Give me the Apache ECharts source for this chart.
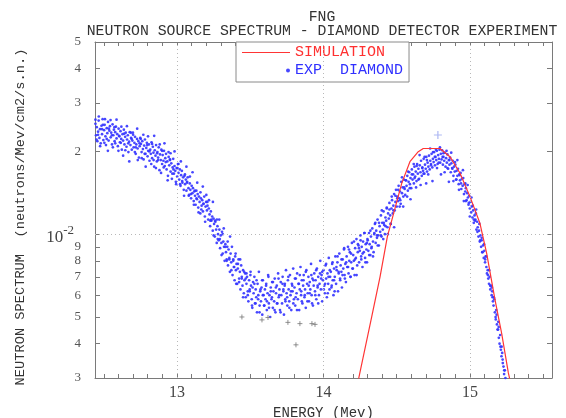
<!DOCTYPE html>
<html>
<head>
<meta charset="utf-8">
<script src="https://cdn.jsdelivr.net/npm/echarts@6/dist/echarts.min.js"></script>
<style>html,body{margin:0;padding:0;background:#fff}#c{width:566px;height:418px}</style>
</head>
<body>
<div id="c"></div>
<script>
// ---- data ----
const titleLines = ['FNG', 'NEUTRON SOURCE SPECTRUM - DIAMOND DETECTOR EXPERIMENT'];
const xName = 'ENERGY (Mev)';
const yName = 'NEUTRON SPECTRUM  (neutrons/Mev/cm2/s.n.)';
const xLabelValues = [13, 14, 15];
const yTickValues = [0.003, 0.004, 0.005, 0.006, 0.007, 0.008, 0.009, 0.01, 0.02, 0.03, 0.04, 0.05];
const xRange = [12.44, 15.56];
const yRange = [0.003, 0.05];

const simulation = [
  [14.235,0.0029],[14.329,0.00501],[14.386,0.0070],[14.436,0.0098],[14.488,0.01242],
  [14.534,0.01531],[14.590,0.01835],[14.647,0.01995],[14.681,0.0205],[14.795,0.0205],
  [14.863,0.01914],[14.932,0.01666],[15.000,0.0137],[15.068,0.01096],[15.114,0.00852],
  [15.171,0.00577],[15.216,0.00437],[15.262,0.00313],[15.273,0.00295]
];

const expDiamond = [
[12.443,0.0252],[12.447,0.0229],[12.452,0.0245],[12.456,0.0218],[12.461,0.0236],[12.465,0.0259],[12.470,0.0224],[12.474,0.0241],[12.479,0.0214],[12.484,0.0248],[12.488,0.0231],[12.492,0.0262],[12.497,0.0220],[12.502,0.0239],[12.506,0.0250],[12.511,0.0227],[12.515,0.0211],[12.520,0.0243],[12.524,0.0233],[12.529,0.0256],[12.533,0.0219],[12.538,0.0238],[12.542,0.0247],[12.547,0.0225],[12.551,0.0234],[12.556,0.0212],[12.560,0.0251],[12.565,0.0229],[12.569,0.0240],[12.574,0.0218],[12.578,0.0235],[12.583,0.0246],[12.587,0.0223],[12.592,0.0231],[12.596,0.0209],[12.601,0.0242],
[12.605,0.0228],[12.610,0.0216],[12.614,0.0237],[12.619,0.0222],[12.623,0.0203],[12.628,0.0231],[12.632,0.0219],[12.637,0.0240],[12.641,0.0212],[12.646,0.0226],[12.650,0.0234],[12.655,0.0208],[12.659,0.0221],[12.664,0.0229],[12.668,0.0199],[12.673,0.0217],[12.677,0.0235],[12.682,0.0211],[12.686,0.0224],[12.691,0.0203],[12.695,0.0219],[12.700,0.0230],[12.704,0.0207],[12.709,0.0215],[12.713,0.0226],[12.718,0.0196],[12.722,0.0212],[12.727,0.0222],[12.731,0.0205],[12.736,0.0218],[12.740,0.0190],[12.745,0.0209],[12.749,0.0224],
[12.754,0.0213],[12.758,0.0199],[12.763,0.0218],[12.767,0.0204],[12.772,0.0187],[12.776,0.0210],[12.781,0.0221],[12.785,0.0196],[12.790,0.0206],[12.794,0.0215],[12.799,0.0192],[12.803,0.0201],[12.808,0.0212],[12.812,0.0185],[12.817,0.0203],[12.821,0.0196],[12.826,0.0216],[12.830,0.0189],[12.835,0.0208],[12.839,0.0198],[12.844,0.0176],[12.848,0.0202],[12.853,0.0193],[12.857,0.0211],[12.862,0.0184],[12.866,0.0199],[12.871,0.0190],[12.875,0.0207],[12.880,0.0171],[12.884,0.0195],[12.889,0.0186],[12.893,0.0203],[12.898,0.0180],
[12.902,0.0194],[12.907,0.0185],[12.911,0.0201],[12.916,0.0177],[12.920,0.0189],[12.925,0.0196],[12.929,0.0172],[12.934,0.0184],[12.938,0.0163],[12.943,0.0191],[12.947,0.0178],[12.952,0.0186],[12.956,0.0169],[12.961,0.0181],[12.965,0.0159],[12.970,0.0175],[12.974,0.0188],[12.979,0.0166],[12.983,0.0177],[12.988,0.0170],[12.992,0.0155],[12.997,0.0174],[13.001,0.0162],[13.006,0.0180],[13.010,0.0167],[13.015,0.0158],[13.019,0.0172],[13.024,0.0150],[13.028,0.0164],[13.033,0.0170],[13.037,0.0154],[13.042,0.0161],[13.046,0.0145],
[13.051,0.0163],[13.055,0.0152],[13.060,0.0158],[13.064,0.0144],[13.069,0.0155],[13.073,0.0161],[13.078,0.0147],[13.082,0.0139],[13.087,0.0153],[13.091,0.0145],[13.096,0.0135],[13.100,0.0150],[13.105,0.0141],[13.109,0.0147],[13.114,0.0132],[13.118,0.0143],[13.123,0.0138],[13.127,0.0128],[13.132,0.0144],[13.136,0.0134],[13.141,0.0140],[13.145,0.0125],[13.150,0.0137],[13.154,0.0131],[13.159,0.0119],[13.163,0.0135],[13.168,0.0127],[13.172,0.0133],[13.177,0.0121],[13.181,0.0129],[13.186,0.0137],[13.190,0.0116],[13.195,0.0126],
[13.199,0.0131],[13.204,0.0122],[13.208,0.0127],[13.213,0.0113],[13.217,0.0124],[13.222,0.0118],[13.226,0.0107],[13.231,0.0121],[13.235,0.0112],[13.240,0.0116],[13.244,0.0103],[13.249,0.0114],[13.253,0.0109],[13.258,0.0098],[13.262,0.0111],[13.267,0.0104],[13.271,0.0093],[13.276,0.0107],[13.280,0.0100],[13.285,0.0095],[13.289,0.0104],[13.294,0.0089],[13.298,0.0099],[13.303,0.0093],[13.307,0.0102],[13.312,0.0085],[13.316,0.0094],[13.321,0.0090],[13.325,0.0080],[13.330,0.0092],[13.334,0.0086],[13.339,0.0081],[13.343,0.0090],[13.348,0.0077],
[13.352,0.0088],[13.357,0.0082],[13.361,0.0073],[13.366,0.0085],[13.370,0.0079],[13.375,0.0090],[13.379,0.0071],[13.384,0.0080],[13.388,0.0076],[13.393,0.0068],[13.397,0.0083],[13.402,0.0074],[13.406,0.0078],[13.411,0.0066],[13.415,0.0075],[13.420,0.0081],[13.424,0.0069],[13.429,0.0073],[13.433,0.0063],[13.438,0.0077],[13.442,0.0070],[13.447,0.0065],[13.451,0.0074],[13.456,0.0061],[13.460,0.0068],[13.465,0.0072],[13.469,0.0059],[13.474,0.0066],[13.478,0.0070],[13.483,0.0062],[13.487,0.0057],[13.492,0.0068],[13.496,0.0063],[13.501,0.0071],
[13.505,0.0065],[13.510,0.0058],[13.514,0.0054],[13.519,0.0067],[13.523,0.0061],[13.528,0.0070],[13.532,0.0056],[13.537,0.0063],[13.541,0.0059],[13.546,0.0052],[13.550,0.0066],[13.555,0.0060],[13.559,0.0073],[13.564,0.0055],[13.568,0.0062],[13.573,0.0057],[13.577,0.0064],[13.582,0.0051],[13.586,0.0068],[13.591,0.0060],[13.595,0.0055],[13.600,0.0063],[13.604,0.0058],[13.609,0.0066],[13.613,0.0053],[13.618,0.0061],[13.622,0.0071],[13.627,0.0056],[13.631,0.0060],[13.636,0.0050],[13.640,0.0064],[13.645,0.0058],[13.649,0.0067],[13.654,0.0054],[13.658,0.0062],[13.663,0.0057],[13.667,0.0069],[13.672,0.0052],[13.676,0.0061],[13.681,0.0065],[13.685,0.0056],[13.690,0.0072],[13.694,0.0059],[13.699,0.0063],[13.703,0.0053],[13.708,0.0067],[13.712,0.0060],[13.717,0.0056],[13.721,0.0070],[13.726,0.0062],[13.730,0.0051],[13.735,0.0065],[13.739,0.0058],[13.744,0.0074],[13.748,0.0061],[13.753,0.0055],[13.757,0.0068],[13.762,0.0063],[13.766,0.0057],[13.771,0.0071],[13.775,0.0060],[13.780,0.0053],[13.784,0.0066],[13.789,0.0062],[13.793,0.0075],[13.798,0.0058],
[13.802,0.0064],[13.807,0.0055],[13.811,0.0069],[13.816,0.0061],[13.820,0.0072],[13.825,0.0058],[13.829,0.0066],[13.834,0.0053],[13.838,0.0063],[13.843,0.0076],[13.847,0.0060],[13.852,0.0068],[13.856,0.0056],[13.861,0.0065],[13.865,0.0071],[13.870,0.0059],[13.874,0.0063],[13.879,0.0054],[13.883,0.0074],[13.888,0.0066],[13.892,0.0061],[13.897,0.0070],[13.901,0.0057],[13.906,0.0067],[13.910,0.0063],[13.915,0.0078],[13.919,0.0060],[13.924,0.0069],[13.928,0.0055],[13.933,0.0065],[13.937,0.0072],[13.942,0.0062],[13.946,0.0068],[13.951,0.0058],[13.955,0.0075],[13.960,0.0064],[13.964,0.0070],[13.969,0.0060],[13.973,0.0066],[13.978,0.0080],[13.982,0.0063],[13.987,0.0071],[13.991,0.0057],[13.996,0.0068],[14.000,0.0074],[14.005,0.0065],[14.009,0.0061],[14.014,0.0077],[14.018,0.0069],[14.023,0.0059],[14.027,0.0072],[14.032,0.0066],[14.036,0.0082],[14.041,0.0063],[14.045,0.0070],
[14.050,0.0073],[14.054,0.0064],[14.059,0.0078],[14.063,0.0068],[14.068,0.0060],[14.072,0.0075],[14.077,0.0070],[14.081,0.0083],[14.086,0.0066],[14.090,0.0074],[14.095,0.0079],[14.099,0.0062],[14.104,0.0072],[14.108,0.0085],[14.113,0.0069],[14.117,0.0077],[14.122,0.0073],[14.126,0.0064],[14.131,0.0081],[14.135,0.0075],[14.140,0.0088],[14.144,0.0071],[14.149,0.0078],[14.153,0.0067],[14.158,0.0083],[14.162,0.0076],[14.167,0.0090],[14.171,0.0072],[14.176,0.0080],[14.180,0.0086],[14.185,0.0070],[14.189,0.0079],[14.194,0.0093],[14.198,0.0075],[14.203,0.0084],[14.207,0.0080],[14.212,0.0071],[14.216,0.0089],[14.221,0.0082],[14.225,0.0096],[14.230,0.0077],[14.234,0.0086],[14.239,0.0091],[14.243,0.0079],[14.248,0.0087],[14.252,0.0099],[14.257,0.0083],[14.261,0.0090],[14.266,0.0076],[14.270,0.0094],[14.275,0.0086],[14.279,0.0101],[14.284,0.0082],[14.288,0.0092],[14.293,0.0088],[14.297,0.0079],
[14.302,0.0095],[14.306,0.0087],[14.311,0.0101],[14.315,0.0092],[14.320,0.0084],[14.324,0.0098],[14.329,0.0090],[14.333,0.0105],[14.338,0.0094],[14.342,0.0086],[14.347,0.0100],[14.351,0.0109],[14.356,0.0093],[14.360,0.0103],[14.365,0.0097],[14.369,0.0113],[14.374,0.0099],[14.378,0.0091],[14.383,0.0107],[14.387,0.0102],[14.392,0.0117],[14.396,0.0098],[14.401,0.0110],[14.405,0.0104],[14.410,0.0121],[14.414,0.0108],[14.419,0.0100],[14.423,0.0115],[14.428,0.0112],[14.432,0.0125],[14.437,0.0106],[14.441,0.0119],[14.446,0.0114],[14.450,0.0130],[14.455,0.0117],[14.459,0.0109],[14.464,0.0124],[14.468,0.0133],[14.473,0.0119],[14.477,0.0127],[14.482,0.0140],[14.486,0.0122],[14.491,0.0131],[14.495,0.0145],[14.500,0.0126],[14.504,0.0137],[14.509,0.0132],[14.513,0.0150],[14.518,0.0135],[14.522,0.0143],[14.527,0.0129],[14.531,0.0155],[14.536,0.0141],[14.540,0.0148],[14.545,0.0137],[14.549,0.0158],
[14.554,0.0146],[14.558,0.0139],[14.563,0.0157],[14.567,0.0150],[14.572,0.0163],[14.576,0.0144],[14.581,0.0155],[14.585,0.0168],[14.590,0.0152],[14.594,0.0160],[14.599,0.0147],[14.603,0.0172],[14.608,0.0158],[14.612,0.0165],[14.617,0.0153],[14.621,0.0176],[14.626,0.0162],[14.630,0.0169],[14.635,0.0156],[14.639,0.0180],[14.644,0.0166],[14.648,0.0173],[14.653,0.0159],[14.657,0.0178],[14.662,0.0168],[14.666,0.0185],[14.671,0.0163],[14.675,0.0175],[14.680,0.0170],[14.684,0.0188],[14.689,0.0166],[14.693,0.0179],[14.698,0.0173],[14.702,0.0191],[14.707,0.0169],[14.711,0.0182],[14.716,0.0176],[14.720,0.0193],[14.725,0.0172],[14.729,0.0185],[14.734,0.0180],[14.738,0.0196],[14.743,0.0175],[14.747,0.0188],[14.752,0.0183],[14.756,0.0199],[14.761,0.0178],[14.765,0.0191],[14.770,0.0186],[14.774,0.0201],[14.779,0.0180],[14.783,0.0194],[14.788,0.0188],[14.792,0.0203],[14.797,0.0182],
[14.801,0.0196],[14.806,0.0187],[14.810,0.0202],[14.815,0.0179],[14.819,0.0191],[14.824,0.0185],[14.828,0.0198],[14.833,0.0176],[14.837,0.0189],[14.842,0.0182],[14.846,0.0195],[14.851,0.0173],[14.855,0.0186],[14.860,0.0179],[14.864,0.0190],[14.869,0.0168],[14.873,0.0181],[14.878,0.0174],[14.882,0.0185],[14.887,0.0163],[14.891,0.0176],[14.896,0.0169],[14.900,0.0179],[14.905,0.0158],[14.909,0.0170],[14.914,0.0163],[14.918,0.0173],[14.923,0.0152],[14.927,0.0165],[14.932,0.0157],[14.936,0.0167],[14.941,0.0146],[14.945,0.0159],[14.950,0.0150],[14.954,0.0160],[14.959,0.0140],[14.963,0.0152],[14.968,0.0143],[14.972,0.0147],[14.977,0.0133],[14.981,0.0141],[14.986,0.0136],[14.990,0.0128],[14.995,0.0138],[14.999,0.0124],
[15.004,0.0131],[15.008,0.0120],[15.013,0.0126],[15.017,0.0115],[15.022,0.0122],[15.026,0.0110],[15.031,0.0117],[15.035,0.0112],[15.040,0.0119],[15.044,0.0104],[15.049,0.0111],[15.053,0.0106],[15.058,0.0098],[15.062,0.0103],[15.067,0.0094],[15.071,0.0099],[15.076,0.0090],[15.080,0.0095],[15.085,0.0086],[15.089,0.0091],[15.094,0.0082],[15.098,0.0087],[15.103,0.0079],[15.107,0.0083],[15.112,0.0076],[15.116,0.0072],[15.121,0.0074],[15.125,0.0069],[15.130,0.0066],[15.134,0.0070],[15.139,0.0063],[15.143,0.0065],[15.148,0.0060],[15.152,0.0062],[15.157,0.0057],[15.161,0.0055],[15.166,0.0058],[15.170,0.0052],[15.175,0.0050],[15.179,0.0053],[15.184,0.0047],[15.188,0.0045],[15.193,0.0048],[15.197,0.0042],[15.202,0.0040],[15.206,0.0043],[15.211,0.0038],[15.215,0.0036],[15.220,0.0037],[15.224,0.0034],[15.229,0.0033],[15.233,0.0031],[15.238,0.0032],[15.242,0.0030]
];

// second pass over the same cloud (the reference is denser than one point per channel)
const expDiamondB = [
[12.443,0.0261],[12.450,0.0221],[12.461,0.0230],[12.466,0.0268],[12.475,0.0209],[12.488,0.0241],[12.494,0.0250],[12.504,0.0215],[12.508,0.0262],[12.520,0.0222],[12.528,0.0201],[12.535,0.0242],[12.546,0.0260],[12.555,0.0229],[12.562,0.0207],[12.573,0.0245],[12.578,0.0214],[12.587,0.0261],[12.600,0.0201],[12.606,0.0227],[12.616,0.0215],[12.620,0.0246],[12.632,0.0193],[12.640,0.0232],[12.647,0.0202],[12.658,0.0247],[12.667,0.0214],[12.674,0.0184],[12.685,0.0234],[12.690,0.0222],
[12.699,0.0234],[12.712,0.0199],[12.718,0.0207],[12.728,0.0242],[12.732,0.0186],[12.744,0.0214],[12.752,0.0222],[12.759,0.0189],[12.770,0.0230],[12.779,0.0196],[12.786,0.0176],[12.797,0.0211],[12.802,0.0227],[12.811,0.0200],[12.824,0.0180],[12.830,0.0213],[12.840,0.0186],[12.844,0.0228],[12.856,0.0174],[12.864,0.0197],[12.871,0.0186],[12.882,0.0212],[12.891,0.0167],[12.898,0.0201],[12.909,0.0175],[12.914,0.0214],[12.923,0.0183],[12.936,0.0157],[12.942,0.0199],[12.952,0.0187],
[12.956,0.0197],[12.968,0.0166],[12.976,0.0172],[12.983,0.0200],[12.994,0.0152],[13.003,0.0174],[13.010,0.0180],[13.021,0.0152],[13.026,0.0184],[13.035,0.0156],[13.048,0.0138],[13.054,0.0165],[13.064,0.0176],[13.068,0.0154],[13.080,0.0138],[13.088,0.0162],[13.095,0.0140],[13.106,0.0168],[13.115,0.0128],[13.122,0.0144],[13.133,0.0135],[13.138,0.0154],[13.147,0.0120],[13.160,0.0142],[13.166,0.0123],[13.176,0.0149],[13.180,0.0129],[13.192,0.0111],[13.200,0.0139],[13.207,0.0131],
[13.218,0.0133],[13.227,0.0112],[13.234,0.0113],[13.245,0.0131],[13.250,0.0099],[13.259,0.0112],[13.272,0.0113],[13.278,0.0096],[13.288,0.0113],[13.292,0.0096],[13.304,0.0084],[13.312,0.0100],[13.319,0.0105],[13.330,0.0090],[13.339,0.0080],[13.346,0.0094],[13.357,0.0081],[13.362,0.0098],[13.371,0.0074],[13.384,0.0081],[13.390,0.0076],[13.400,0.0085],[13.404,0.0066],[13.416,0.0078],[13.424,0.0067],[13.431,0.0081],[13.442,0.0069],[13.451,0.0059],[13.458,0.0073],[13.469,0.0069],
[13.474,0.0072],[13.483,0.0060],[13.496,0.0062],[13.502,0.0073],[13.512,0.0055],[13.516,0.0064],[13.528,0.0066],[13.536,0.0056],[13.543,0.0068],[13.554,0.0058],[13.563,0.0052],[13.570,0.0063],[13.581,0.0068],[13.586,0.0060],[13.595,0.0055],[13.608,0.0065],[13.614,0.0057],[13.624,0.0070],[13.628,0.0054],[13.640,0.0062],[13.648,0.0059],[13.655,0.0067],[13.666,0.0053],[13.675,0.0064],[13.682,0.0056],[13.693,0.0069],[13.698,0.0060],[13.707,0.0052],[13.720,0.0066],[13.726,0.0063],
[13.736,0.0066],[13.740,0.0057],[13.752,0.0059],[13.760,0.0070],[13.767,0.0054],[13.778,0.0062],[13.787,0.0065],[13.794,0.0056],[13.805,0.0069],[13.810,0.0059],[13.819,0.0053],[13.832,0.0066],[13.838,0.0071],[13.848,0.0062],[13.852,0.0057],[13.864,0.0068],[13.872,0.0060],[13.879,0.0073],[13.890,0.0057],[13.899,0.0065],[13.906,0.0061],[13.917,0.0071],[13.922,0.0056],[13.931,0.0068],[13.944,0.0060],[13.950,0.0074],[13.960,0.0065],[13.964,0.0056],[13.976,0.0072],[13.984,0.0069],
[13.991,0.0073],[14.002,0.0063],[14.011,0.0066],[14.018,0.0078],[14.029,0.0061],[14.034,0.0070],[14.043,0.0074],[14.056,0.0065],[14.062,0.0079],[14.072,0.0068],[14.076,0.0062],[14.088,0.0076],[14.096,0.0083],[14.103,0.0073],[14.114,0.0068],[14.123,0.0081],[14.130,0.0071],[14.141,0.0089],[14.146,0.0069],[14.155,0.0079],[14.168,0.0076],[14.174,0.0088],[14.184,0.0070],[14.188,0.0085],[14.200,0.0075],[14.208,0.0094],[14.215,0.0081],[14.226,0.0071],[14.235,0.0092],[14.242,0.0089],
[14.253,0.0095],[14.258,0.0081],[14.267,0.0085],[14.280,0.0101],[14.286,0.0079],[14.296,0.0093],[14.300,0.0096],[14.312,0.0084],[14.320,0.0103],[14.327,0.0089],[14.338,0.0083],[14.347,0.0101],[14.354,0.0110],[14.365,0.0099],[14.370,0.0091],[14.379,0.0110],[14.392,0.0099],[14.398,0.0122],[14.408,0.0096],[14.412,0.0110],[14.424,0.0107],[14.432,0.0124],[14.439,0.0100],[14.450,0.0123],[14.459,0.0109],[14.466,0.0137],[14.477,0.0122],[14.482,0.0106],[14.491,0.0138],[14.504,0.0135],
[14.510,0.0145],[14.520,0.0126],[14.524,0.0133],[14.536,0.0161],[14.544,0.0126],[14.551,0.0148],[14.562,0.0157],[14.571,0.0137],[14.578,0.0169],[14.589,0.0147],[14.594,0.0134],[14.603,0.0165],[14.616,0.0180],[14.622,0.0160],[14.632,0.0148],[14.636,0.0177],[14.648,0.0158],[14.656,0.0194],[14.663,0.0151],[14.674,0.0174],[14.683,0.0166],[14.690,0.0191],[14.701,0.0153],[14.706,0.0186],[14.715,0.0165],[14.728,0.0205],[14.734,0.0178],[14.744,0.0156],[14.748,0.0199],[14.760,0.0191],
[14.768,0.0203],[14.775,0.0174],[14.786,0.0182],[14.795,0.0207],[14.802,0.0165],[14.813,0.0191],[14.818,0.0197],[14.827,0.0168],[14.840,0.0201],[14.846,0.0174],[14.856,0.0155],[14.860,0.0186],[14.872,0.0198],[14.880,0.0173],[14.887,0.0156],[14.898,0.0183],[14.907,0.0158],[14.914,0.0186],[14.925,0.0145],[14.930,0.0164],[14.939,0.0153],[14.952,0.0171],[14.958,0.0132],[14.968,0.0153],[14.972,0.0132],[14.984,0.0151],[14.992,0.0130],[14.999,0.0116],
[15.010,0.0136],[15.019,0.0127],[15.026,0.0113],[15.037,0.0113],[15.042,0.0123],[15.051,0.0102],[15.064,0.0109],[15.070,0.0095],[15.080,0.0097],[15.084,0.0086],[15.096,0.0092],[15.104,0.0081],[15.111,0.0083],[15.122,0.0071],[15.131,0.0074],[15.138,0.0065],[15.149,0.0064],[15.154,0.0059],[15.163,0.0059],[15.176,0.0049],[15.182,0.0051],[15.192,0.0045],[15.196,0.0046],[15.208,0.0039],[15.216,0.0039],[15.223,0.0035],[15.234,0.0032]
];

// grey crosses seen under the minimum, and the pale-blue marker above the peak
const expLowPoints = [
  [13.443,0.0050],[13.580,0.00488],[13.621,0.00498],[13.757,0.00478],[13.839,0.00473],
  [13.921,0.00473],[13.942,0.0047],[13.812,0.00396]
];
const expPeakMarker = [[14.781,0.02295]];

// ---- chart ----
const mono = '"Liberation Mono", "DejaVu Sans Mono", monospace';
const serif = '"Liberation Serif", "DejaVu Serif", serif';
const frameColor = '#7a7a7a';
const log10 = Math.log10;

const xMinorTicks = [];
for (let k = 125; k <= 155; k++) xMinorTicks.push(k / 10);
const yTickLog = yTickValues.map(v => log10(v));

function yLabelFormatter(val) {
  const v = Math.pow(10, val);
  const e = Math.floor(val + 1e-9);
  const m = Math.round(v / Math.pow(10, e));
  if (m === 1) return '{p|10}{s|' + e + '}';
  return String(m);
}

const chart = echarts.init(document.getElementById('c'), null, { renderer: 'canvas' });
chart.setOption({
  animation: false,
  backgroundColor: '#ffffff',
  title: {
    text: titleLines.join('\n'),
    left: 317,
    top: 5,
    textAlign: 'center',
    textStyle: { fontFamily: mono, fontSize: 14.8, fontWeight: 'normal', color: '#333', lineHeight: 14 }
  },
  legend: {
    orient: 'vertical',
    left: 236,
    top: 42,
    padding: [3, 6, 4, 6],
    itemGap: 3,
    itemWidth: 48,
    itemHeight: 10,
    borderColor: '#8a8a8a',
    borderWidth: 1,
    backgroundColor: '#fff',
    textStyle: { fontFamily: mono, fontSize: 15 },
    data: [
      { name: 'SIMULATION', icon: 'path://M0,0M48,0M48,10M0,10M0,4.4L48,4.4L48,5.6L0,5.6Z', textStyle: { color: '#ff3030' } },
      { name: 'EXP  DIAMOND', icon: 'path://M0,0M48,0M48,10M0,10M44,5a2,2 0 1,0 4,0a2,2 0 1,0 -4,0Z', textStyle: { color: '#3030ff' } }
    ]
  },
  grid: { left: 95, right: 14, top: 42, bottom: 40, containLabel: false, outerBoundsMode: 'none' },
  xAxis: [
    {
      type: 'value', position: 'bottom', min: xRange[0], max: xRange[1],
      axisLine: { show: true, lineStyle: { color: frameColor, width: 1 } },
      axisTick: { show: true, inside: true, length: 4, customValues: xMinorTicks, lineStyle: { color: frameColor } },
      axisLabel: { customValues: xLabelValues, margin: 7, fontFamily: serif, fontSize: 16, color: '#444',
        formatter: v => String(Math.round(v)) },
      splitLine: { show: false },
      name: xName, nameLocation: 'middle', nameGap: 23,
      nameTextStyle: { fontFamily: mono, fontSize: 14, color: '#333' }
    },
    {
      type: 'value', position: 'top', min: xRange[0], max: xRange[1],
      axisLine: { show: true, lineStyle: { color: frameColor, width: 1 } },
      axisTick: { show: true, inside: true, length: 4, customValues: xMinorTicks, lineStyle: { color: frameColor } },
      axisLabel: { show: false },
      splitLine: { show: false }
    }
  ],
  yAxis: [
    {
      type: 'log', logBase: 10, min: yRange[0], max: yRange[1], show: false,
      splitLine: { show: false }
    },
    {
      type: 'value', position: 'left', min: log10(yRange[0]), max: log10(yRange[1]),
      axisLine: { show: true, lineStyle: { color: frameColor, width: 1 } },
      axisTick: { show: true, inside: true, length: 5, customValues: yTickLog, lineStyle: { color: frameColor } },
      axisLabel: {
        customValues: yTickLog, margin: 14, fontFamily: serif, fontSize: 13, color: '#555',
        formatter: yLabelFormatter,
        rich: {
          p: { fontFamily: serif, fontSize: 17, color: '#444', padding: [6, 0, 0, 0] },
          s: { fontFamily: serif, fontSize: 13, color: '#444', padding: [0, 7, 8, 0] }
        }
      },
      splitLine: { show: false },
      name: yName, nameLocation: 'middle', nameGap: 68,
      nameTextStyle: { fontFamily: mono, fontSize: 13.7, color: '#333', padding: [0, 14, 0, 0] }
    },
    {
      type: 'value', position: 'right', min: log10(yRange[0]), max: log10(yRange[1]),
      axisLine: { show: true, lineStyle: { color: frameColor, width: 1 } },
      axisTick: { show: true, inside: true, length: 5, customValues: yTickLog, lineStyle: { color: frameColor } },
      axisLabel: { show: false },
      splitLine: { show: false }
    }
  ],
  series: [
    {
      name: 'EXP  DIAMOND',
      type: 'scatter',
      xAxisIndex: 0, yAxisIndex: 0,
      data: expDiamond.concat(expDiamondB),
      symbol: 'circle',
      symbolSize: 2.7,
      itemStyle: { color: '#3333ff', opacity: 0.9 },
      silent: true,
      large: false,
      z: 2,
      markLine: {
        silent: true,
        symbol: 'none',
        label: { show: false },
        lineStyle: { color: '#b8b8b8', type: [1, 3], width: 1 },
        data: [
          { xAxis: xLabelValues[0] }, { xAxis: xLabelValues[1] }, { xAxis: xLabelValues[2] },
          { yAxis: 0.01 }
        ]
      }
    },
    {
      name: 'EXP low',
      type: 'scatter',
      xAxisIndex: 0, yAxisIndex: 0,
      data: expLowPoints,
      symbol: 'path://M2,0L2,4M0,2L4,2',
      symbolSize: 5,
      itemStyle: { color: 'none', borderColor: '#777', borderWidth: 1 },
      silent: true, z: 2
    },
    {
      name: 'EXP peak',
      type: 'scatter',
      xAxisIndex: 0, yAxisIndex: 0,
      data: expPeakMarker,
      symbol: 'path://M4,0L4,8M0,4L8,4',
      symbolSize: 8,
      itemStyle: { color: 'none', borderColor: '#9aa6f0', borderWidth: 1.2 },
      silent: true, z: 2
    },
    {
      name: 'SIMULATION',
      type: 'line',
      xAxisIndex: 0, yAxisIndex: 0,
      data: simulation,
      symbol: 'none',
      showSymbol: false,
      lineStyle: { color: '#ff3535', width: 1.2 },
      itemStyle: { color: '#ff3535' },
      silent: true,
      clip: true,
      z: 3
    }
  ]
});
</script>
</body>
</html>
